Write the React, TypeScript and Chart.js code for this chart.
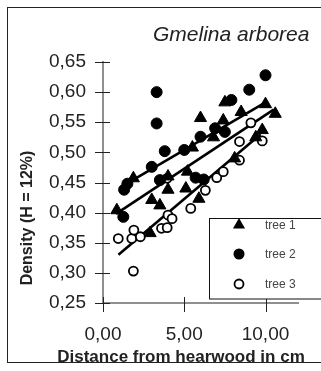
import React, { useEffect, useRef } from 'react';
import { Chart, registerables } from 'chart.js';

Chart.register(...registerables);

const chartTitle = 'Gmelina arborea';
const xAxisTitle = 'Distance from hearwood in cm';
const yAxisTitle = 'Density (H = 12%)';
const seriesNames = ['tree 1', 'tree 2', 'tree 3'];

const xTickValues = [0, 5, 10];
const yTickValues = [0.25, 0.3, 0.35, 0.4, 0.45, 0.5, 0.55, 0.6, 0.65];

// tree 1 (triangles)
const tree1X = [0.85, 1.87, 2.9, 3.0, 3.5, 4.0, 4.0, 5.1, 5.2, 5.5, 5.9, 6.0, 6.8, 7.4, 7.5, 8.1, 8.5, 9.4, 9.8, 10.0, 10.6];
const tree1Y = [0.404, 0.457, 0.366, 0.421, 0.412, 0.46, 0.438, 0.44, 0.468, 0.508, 0.423, 0.557, 0.525, 0.553, 0.583, 0.49, 0.567, 0.525, 0.537, 0.58, 0.564];

// tree 2 (filled circles)
const tree2X = [1.25, 1.3, 1.5, 3.0, 3.3, 3.3, 3.5, 3.8, 5.0, 5.7, 6.0, 6.2, 6.9, 7.5, 7.9, 9.0, 10.0];
const tree2Y = [0.393, 0.438, 0.448, 0.476, 0.6, 0.548, 0.454, 0.502, 0.504, 0.458, 0.526, 0.455, 0.54, 0.534, 0.587, 0.604, 0.628];

// tree 3 (open circles)
const tree3X = [0.94, 1.77, 1.9, 1.87, 2.3, 3.6, 3.95, 4.0, 4.25, 3.95, 5.4, 6.3, 7.0, 7.4, 8.4, 8.4, 9.1, 9.8];
const tree3Y = [0.357, 0.357, 0.371, 0.303, 0.36, 0.374, 0.375, 0.396, 0.39, 0.457, 0.407, 0.437, 0.458, 0.468, 0.487, 0.518, 0.549, 0.519];

// fitted lines (end points)
const fit1X = [0.8, 10.5];
const fit1Y = [0.398, 0.571];
const fit2X = [1.25, 10.05];
const fit2Y = [0.445, 0.584];
const fit3X = [0.95, 9.7];
const fit3Y = [0.33, 0.53];

const FONT = '"Liberation Sans", Arial, sans-serif';

const pts = (xs: number[], ys: number[]) => xs.map((x, i) => ({ x, y: ys[i] }));
const fmt = (v: number) => Number(v).toFixed(2).replace('.', ',');

export default function App() {
  const ref = useRef<HTMLCanvasElement>(null);

  useEffect(() => {
    const canvas = ref.current!;
    const ctx = canvas.getContext('2d')!;

    const overlay = {
      id: 'overlay',
      beforeDraw(chart: any) {
        const c = chart.ctx;
        c.save();
        c.fillStyle = '#ffffff';
        c.fillRect(0, 0, chart.width, chart.height);
        c.restore();
      },
      afterDraw(chart: any) {
        const c = chart.ctx;
        const xs = chart.scales.x;
        const ys = chart.scales.y;
        const area = chart.chartArea;
        c.save();
        // frame
        c.strokeStyle = '#222';
        c.lineWidth = 1;
        c.strokeRect(7.5, 7.5, 400, 355);
        // crossing ticks
        c.strokeStyle = '#222';
        c.lineWidth = 1;
        ys.ticks.forEach((_t: any, i: number) => {
          const y = Math.round(ys.getPixelForTick(i)) + 0.5;
          c.beginPath();
          c.moveTo(area.left - 8, y);
          c.lineTo(area.left + 7, y);
          c.stroke();
        });
        xs.ticks.forEach((_t: any, i: number) => {
          const x = Math.round(xs.getPixelForTick(i)) + 0.5;
          c.beginPath();
          c.moveTo(x, area.bottom - 6);
          c.lineTo(x, area.bottom + 9);
          c.stroke();
        });
        // title
        c.fillStyle = '#222';
        c.font = `italic 21px ${FONT}`;
        c.textAlign = 'left';
        c.textBaseline = 'alphabetic';
        c.fillText(chartTitle, 153, 41);
        // x axis title
        c.font = `bold 17px ${FONT}`;
        c.textAlign = 'center';
        c.fillText(xAxisTitle, 181, 362);
        // y axis title
        c.save();
        c.translate(32, 218);
        c.rotate(-Math.PI / 2);
        c.font = `bold 16px ${FONT}`;
        c.textAlign = 'center';
        c.fillText(yAxisTitle, 0, 0);
        c.restore();
        // legend
        const lx = 209.5, ly = 218.5, lw = 120, lh = 80.5;
        c.fillStyle = '#fff';
        c.fillRect(lx, ly, lw, lh);
        c.strokeStyle = '#111';
        c.lineWidth = 1;
        c.strokeRect(lx, ly, lw, lh);
        const rows = [225, 254, 284];
        const mx = 239;
        // triangle
        {
          const r = 7;
          let rad = 0;
          c.beginPath();
          c.moveTo(mx + Math.sin(rad) * r, rows[0] - Math.cos(rad) * r);
          rad += (2 * Math.PI) / 3;
          c.lineTo(mx + Math.sin(rad) * r, rows[0] - Math.cos(rad) * r);
          rad += (2 * Math.PI) / 3;
          c.lineTo(mx + Math.sin(rad) * r, rows[0] - Math.cos(rad) * r);
          c.closePath();
          c.fillStyle = '#000';
          c.fill();
        }
        c.beginPath();
        c.arc(mx, rows[1], 5.5, 0, Math.PI * 2);
        c.fillStyle = '#000';
        c.fill();
        c.beginPath();
        c.arc(mx, rows[2], 4.5, 0, Math.PI * 2);
        c.fillStyle = '#fff';
        c.fill();
        c.lineWidth = 1.8;
        c.strokeStyle = '#000';
        c.stroke();
        c.fillStyle = '#444';
        c.font = `12px ${FONT}`;
        c.textAlign = 'left';
        c.textBaseline = 'middle';
        seriesNames.forEach((n, i) => c.fillText(n, 265, rows[i] + 1));
        c.restore();
      },
    };

    const lineDs = (xs: number[], ys: number[]) => ({
      type: 'line' as const,
      data: pts(xs, ys),
      borderColor: '#000',
      borderWidth: 2.6,
      pointRadius: 0,
      fill: false,
      showLine: true,
      order: 1,
    });

    const chart = new Chart(ctx, {
      type: 'scatter',
      data: {
        datasets: [
          {
            label: seriesNames[0],
            data: pts(tree1X, tree1Y),
            pointStyle: 'triangle',
            pointRadius: 7,
            backgroundColor: '#000',
            borderColor: '#000',
            borderWidth: 1,
            order: 0,
          },
          {
            label: seriesNames[1],
            data: pts(tree2X, tree2Y),
            pointStyle: 'circle',
            pointRadius: 5.5,
            backgroundColor: '#000',
            borderColor: '#000',
            borderWidth: 1,
            order: 0,
          },
          {
            label: seriesNames[2],
            data: pts(tree3X, tree3Y),
            pointStyle: 'circle',
            pointRadius: 4.5,
            backgroundColor: '#fff',
            borderColor: '#000',
            borderWidth: 1.8,
            order: 0,
          },
          lineDs(fit1X, fit1Y),
          lineDs(fit2X, fit2Y),
          lineDs(fit3X, fit3Y),
        ] as any,
      },
      options: {
        responsive: false,
        animation: false,
        devicePixelRatio: 1,
        layout: { padding: { top: 62, left: 0, right: 23, bottom: 0 } },
        plugins: {
          legend: { display: false },
          tooltip: { enabled: false },
          title: { display: false },
        },
        scales: {
          x: {
            type: 'linear',
            min: 0,
            max: 12,
            afterBuildTicks: (s: any) => {
              s.ticks = xTickValues.map((v) => ({ value: v }));
            },
            afterFit: (s: any) => {
              s.height = 68;
              s.paddingLeft = 0;
              s.paddingRight = 0;
            },
            grid: { display: true, drawOnChartArea: false, drawTicks: false },
            border: { display: true, color: '#8f8f8f', width: 2 },
            ticks: {
              padding: 20,
              color: '#222',
              font: { family: FONT, size: 19 },
              callback: (v: any) => fmt(v),
              maxRotation: 0,
            },
          },
          y: {
            type: 'linear',
            min: 0.25,
            max: 0.65,
            afterBuildTicks: (s: any) => {
              s.ticks = yTickValues.map((v) => ({ value: v }));
            },
            afterFit: (s: any) => {
              s.width = 103;
              s.paddingTop = 0;
              s.paddingBottom = 0;
            },
            grid: { display: true, drawOnChartArea: false, drawTicks: false },
            border: { display: true, color: '#8f8f8f', width: 2 },
            ticks: {
              padding: 17,
              color: '#222',
              font: { family: FONT, size: 19 },
              callback: (v: any) => fmt(v),
            },
          },
        },
      } as any,
      plugins: [overlay],
    });

    return () => chart.destroy();
  }, []);

  return (
    <div style={{ position: 'absolute', left: 0, top: 0, width: 321, height: 371, background: '#fff' }}>
      <canvas ref={ref} width={321} height={371} style={{ display: 'block', width: 321, height: 371 }} />
    </div>
  );
}
